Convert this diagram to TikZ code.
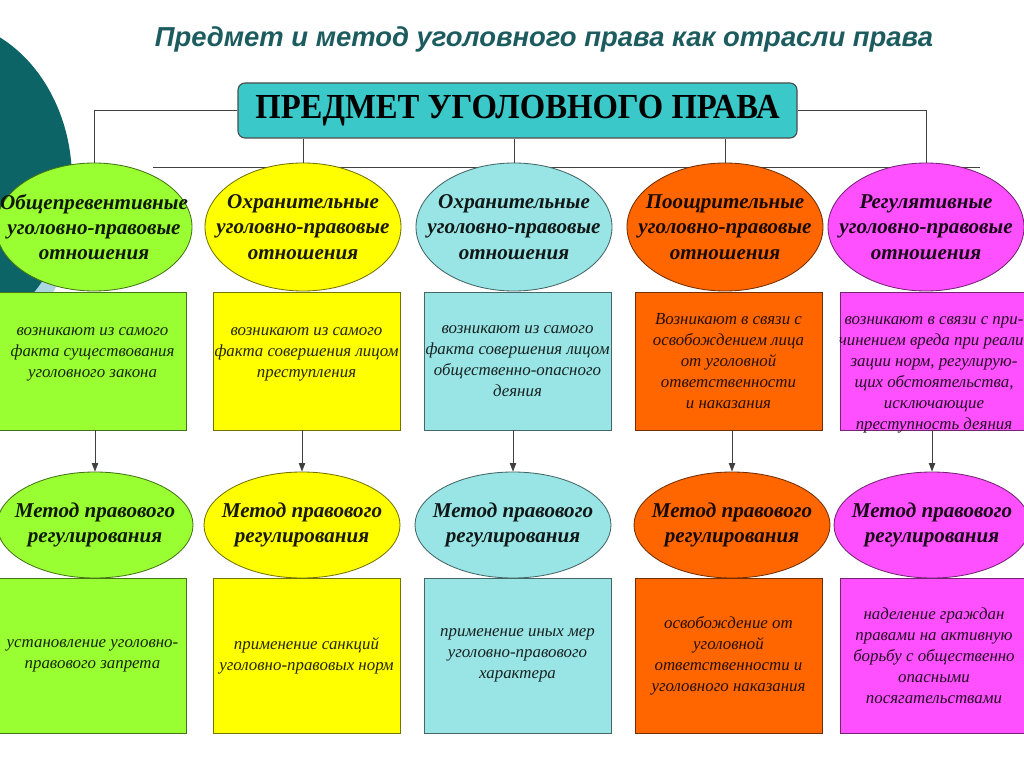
\documentclass[tikz,border=0pt]{standalone}
\usepackage{fontspec}
\setmainfont{Liberation Serif}
\newfontfamily\titlefont{Liberation Sans}
\usepackage{graphicx}
\usepackage{xcolor}
\usetikzlibrary{shapes.geometric, arrows.meta}
\definecolor{deepteal}{RGB}{12,100,102}
\definecolor{paleblue}{RGB}{170,215,225}
\definecolor{titleteal}{RGB}{28,92,94}
\definecolor{headfill}{RGB}{58,200,200}
\definecolor{cgreen}{RGB}{153,255,51}
\definecolor{cyellow}{RGB}{255,255,0}
\definecolor{cblue}{RGB}{153,228,228}
\definecolor{corange}{RGB}{255,102,0}
\definecolor{cmagenta}{RGB}{255,80,255}
\newcommand{\pu}{0.025cm}

\begin{document}
\begin{tikzpicture}[x=\pu, y=-\pu,
    relnode/.style={ellipse, draw=#1!45!black, fill=#1, line width=0.6pt, minimum width=196*\pu, minimum height=128*\pu, inner xsep=-45pt, inner ysep=0pt, align=center, text=#1!10!black, font=\fontsize{15}{18}\selectfont\bfseries\itshape},
    methnode/.style={relnode=#1, minimum height=106*\pu},
    textbox/.style={rectangle, draw=#1!45!black, fill=#1, line width=0.6pt, minimum width=187*\pu, minimum height=138*\pu},
    lowbox/.style={textbox=#1, minimum height=155*\pu},
    boxtext/.style={inner sep=0pt, align=center, text=#1!15!black, font=\fontsize{12}{15}\selectfont\itshape},
    wire/.style={draw=black!75, line width=0.6pt}]
    \useasboundingbox (0,0) rectangle (1024,767);
    \fill[white] (0,0) rectangle (1024,767);
    \fill[paleblue] (-60,205) ellipse [x radius=135*\pu, y radius=160*\pu];
    \fill[deepteal] (-60,180) ellipse [x radius=132*\pu, y radius=160*\pu];

    \node[font=\titlefont\fontsize{19.5}{24}\selectfont\bfseries\itshape, text=titleteal] (title) at (544,39) {Предмет и метод уголовного права как отрасли права};
    \node[draw=black!70, fill=headfill, rounded corners=5pt, line width=0.8pt, minimum width=559*\pu, minimum height=55*\pu, inner sep=0pt, font=\fontsize{25}{28}\selectfont\bfseries] (head) at (517.5,110.5) {\scalebox{0.93}[1]{ПРЕДМЕТ УГОЛОВНОГО ПРАВА}};

    \coordinate (busL) at (153,167);
    \coordinate (busR) at (980,167);
    \draw[wire] (busL) -- (busR);

    \node[textbox=cgreen] (r1) at (92.5,361) {};
    \node[textbox=cyellow] (r2) at (306.5,361) {};
    \node[textbox=cblue] (r3) at (517.5,361) {};
    \node[textbox=corange] (r4) at (728.5,361) {};
    \node[textbox=cmagenta] (r5) at (934,361) {};
    \node[boxtext=cgreen] (t1) at ([yshift=5pt]r1.center) {возникают из самого\\факта существования\\уголовного закона};
    \node[boxtext=cyellow] (t2) at ([yshift=5pt]r2.center) {возникают из самого\\факта совершения лицом\\преступления};
    \node[boxtext=cblue] (t3) at (r3.center) {возникают из самого\\факта совершения лицом\\общественно-опасного\\деяния};
    \node[boxtext=corange] (t4) at (r4.center) {Возникают в связи с\\освобождением лица\\от уголовной\\ответственности\\и наказания};
    \node[boxtext=cmagenta] (t5) at ([yshift=-10pt]r5.center) {возникают в связи с при-\\чинением вреда при реали-\\зации норм, регулирую-\\щих обстоятельства,\\исключающие\\преступность деяния};

    \node[relnode=cgreen] (e1) at (94,227) {Общепревентивные\\уголовно-правовые\\отношения};
    \node[relnode=cyellow] (e2) at (303,227) {Охранительные\\уголовно-правовые\\отношения};
    \node[relnode=cblue] (e3) at (514,227) {Охранительные\\уголовно-правовые\\отношения};
    \node[relnode=corange] (e4) at (725,227) {Поощрительные\\уголовно-правовые\\отношения};
    \node[relnode=cmagenta] (e5) at (926,227) {Регулятивные\\уголовно-правовые\\отношения};

    \node[lowbox=cgreen] (s1) at (92.5,655.5) {};
    \node[lowbox=cyellow] (s2) at (306.5,655.5) {};
    \node[lowbox=cblue] (s3) at (517.5,655.5) {};
    \node[lowbox=corange] (s4) at (728.5,655.5) {};
    \node[lowbox=cmagenta] (s5) at (934,655.5) {};
    \node[boxtext=cgreen] (u1) at (s1.center) {установление уголовно-\\правового запрета};
    \node[boxtext=cyellow] (u2) at (s2.center) {применение санкций\\уголовно-правовых норм};
    \node[boxtext=cblue] (u3) at (s3.center) {применение иных мер\\уголовно-правового\\характера};
    \node[boxtext=corange] (u4) at (s4.center) {освобождение от\\уголовной\\ответственности и\\уголовного наказания};
    \node[boxtext=cmagenta] (u5) at (s5.center) {наделение граждан\\правами на активную\\борьбу с общественно\\опасными\\посягательствами};

    \node[methnode=cgreen] (m1) at (95,525) {Метод правового\\регулирования};
    \node[methnode=cyellow] (m2) at (302,525) {Метод правового\\регулирования};
    \node[methnode=cblue] (m3) at (513,525) {Метод правового\\регулирования};
    \node[methnode=corange] (m4) at (732,525) {Метод правового\\регулирования};
    \node[methnode=cmagenta] (m5) at (932,525) {Метод правового\\регулирования};

    \draw[wire] (head.west) -| (e1.north);
    \draw[wire] (head.east) -| (e5.north);
    \draw[wire] (head.south -| e2.north) -- (e2.north);
    \draw[wire] (head.south -| e3.north) -- (e3.north);
    \draw[wire] (head.south -| e4.north) -- (e4.north);

    \draw[wire, -{Triangle[length=6pt, width=4.5pt]}] (m1.north |- r1.south) -- (m1.north);
    \draw[wire, -{Triangle[length=6pt, width=4.5pt]}] (m2.north |- r2.south) -- (m2.north);
    \draw[wire, -{Triangle[length=6pt, width=4.5pt]}] (m3.north |- r3.south) -- (m3.north);
    \draw[wire, -{Triangle[length=6pt, width=4.5pt]}] (m4.north |- r4.south) -- (m4.north);
    \draw[wire, -{Triangle[length=6pt, width=4.5pt]}] (m5.north |- r5.south) -- (m5.north);
\end{tikzpicture}
\end{document}
